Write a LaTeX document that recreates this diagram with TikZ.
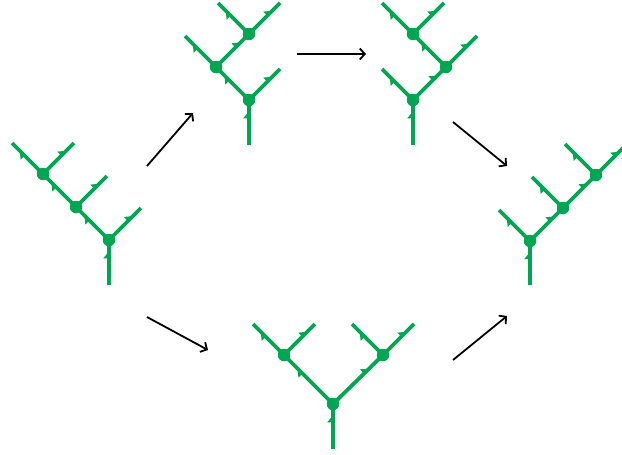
\documentclass[tikz,border=0pt]{standalone}
\usepackage{tikz}
\usetikzlibrary{arrows.meta,decorations.markings}

\definecolor{treegreen}{RGB}{0,166,81}

\tikzset{
  vert/.style={circle,fill=treegreen,inner sep=0pt,minimum size=12.5pt},
  edge/.style={draw=treegreen,line width=3.8pt,postaction={decorate},
    decoration={markings,mark=at position 0.68 with
      {\fill[treegreen] (3pt,0pt) -- (-4pt,0pt) -- (-4pt,5.8pt) -- cycle;}}},
  move/.style={black,line width=1.8pt,-{Straight Barb[length=5pt,width=11pt]}}
}

\begin{document}
\begin{tikzpicture}[x=1pt,y=-1pt]
\useasboundingbox (0,0) rectangle (622,455);

% left tree
\coordinate (L0) at (109,285);
\node[vert] (L1) at (109,240) {};
\node[vert] (L2) at (76,207) {};
\node[vert] (L3) at (43,174) {};
\coordinate (La) at (12,143);
\coordinate (Lb) at (74,143);
\coordinate (Lc) at (107,176);
\coordinate (Ld) at (141,208);

% top middle tree
\coordinate (A0) at (249,145);
\node[vert] (A1) at (249,100) {};
\node[vert] (A2) at (216,67) {};
\node[vert] (A3) at (249,34) {};
\coordinate (Aa) at (280,69);
\coordinate (Ab) at (185,36);
\coordinate (Ac) at (218,3);
\coordinate (Ad) at (280,3);

% top right tree
\coordinate (B0) at (413,145);
\node[vert] (B1) at (413,100) {};
\node[vert] (B2) at (446,67) {};
\node[vert] (B3) at (413,34) {};
\coordinate (Ba) at (382,69);
\coordinate (Bb) at (477,36);
\coordinate (Bc) at (382,3);
\coordinate (Bd) at (444,3);

% right tree
\coordinate (C0) at (530,285);
\node[vert] (C1) at (530,241) {};
\node[vert] (C2) at (563,208) {};
\node[vert] (C3) at (596,175) {};
\coordinate (Ca) at (499,210);
\coordinate (Cb) at (532,177);
\coordinate (Cc) at (565,144);
\coordinate (Cd) at (627,144);

% bottom tree
\coordinate (D0) at (333,449);
\node[vert] (D1) at (333,404) {};
\node[vert] (D2) at (284,355) {};
\node[vert] (D3) at (383,355) {};
\coordinate (Da) at (253,324);
\coordinate (Db) at (315,324);
\coordinate (Dc) at (352,324);
\coordinate (Dd) at (414,324);

% draw the edges, each one pointing away from the root
\foreach \a/\b in {L0/L1,L1/L2,L2/L3,L3/La,L3/Lb,L2/Lc,L1/Ld,
                   A0/A1,A1/A2,A1/Aa,A2/Ab,A2/A3,A3/Ac,A3/Ad,
                   B0/B1,B1/B2,B1/Ba,B2/Bb,B2/B3,B3/Bc,B3/Bd,
                   C0/C1,C1/C2,C1/Ca,C2/Cb,C2/C3,C3/Cc,C3/Cd,
                   D0/D1,D1/D2,D1/D3,D2/Da,D2/Db,D3/Dc,D3/Dd}
\draw[edge] (\a.center) -- (\b.center);

% draw the moves between trees
\coordinate (m1s) at (147,166);
\coordinate (m1e) at (193,113);
\coordinate (m2s) at (297,54);
\coordinate (m2e) at (366,54);
\coordinate (m3s) at (453,122);
\coordinate (m3e) at (507,166);
\coordinate (m4s) at (147,317);
\coordinate (m4e) at (208,350);
\coordinate (m5s) at (453,360);
\coordinate (m5e) at (507,316);

\foreach \n in {1,...,5}
\draw[move] (m\n s) -- (m\n e);
\end{tikzpicture}
\end{document}
